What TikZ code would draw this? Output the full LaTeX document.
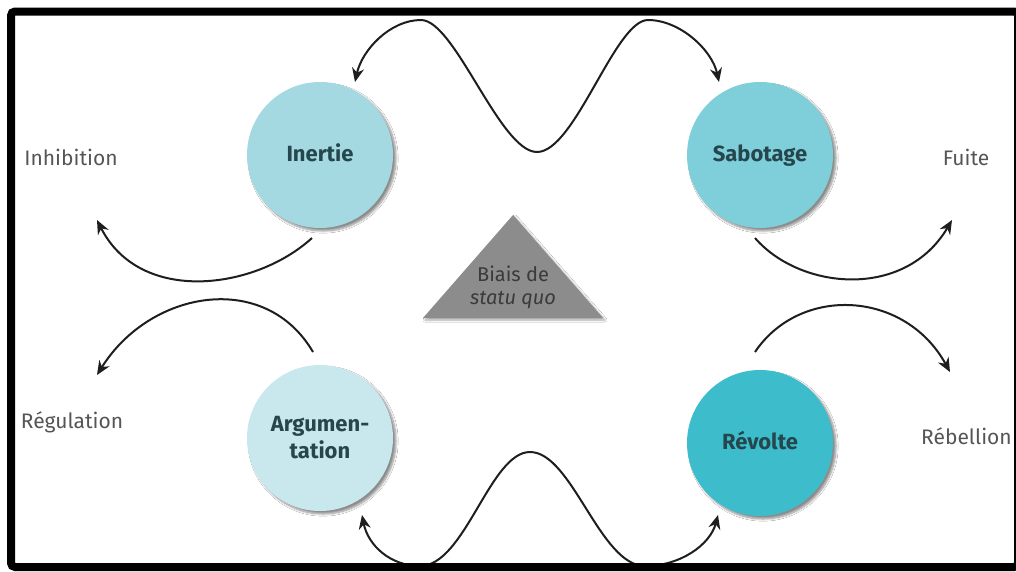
\documentclass[tikz,border=0pt]{standalone}
\usepackage{fontspec}
\setmainfont{Fira Sans}
\usetikzlibrary{arrows.meta,shadows.blur,calc}
\definecolor{cInertie}{HTML}{A4D9E2}
\definecolor{cSabotage}{HTML}{7FCFDB}
\definecolor{cArgu}{HTML}{C8E8EE}
\definecolor{cRevolte}{HTML}{3DBDCC}
\definecolor{cText}{HTML}{24464C}
\definecolor{cLabel}{HTML}{555555}
\definecolor{cTri}{HTML}{8C8C8C}
\definecolor{cTriText}{HTML}{3A3A3A}
\definecolor{cLine}{HTML}{1E1E1E}
\begin{document}
\begin{tikzpicture}[x=1pt,y=-1pt,
  bubble/.style={circle, minimum size=146pt, inner sep=0pt, align=center,
    font=\bfseries\fontsize{22}{27}\selectfont, text=cText,
    blur shadow={shadow xshift=3pt, shadow yshift=-3pt, shadow blur steps=8, shadow opacity=45}},
  oneline/.style={text height=16pt, text depth=4pt},
  lbl/.style={font=\fontsize{21}{24}\selectfont, text=cLabel, inner sep=0pt},
  tip/.tip={Stealth[length=14pt,width=12pt]},
  conn/.style={draw=cLine, line width=2pt, -tip},
  conn2/.style={draw=cLine, line width=2pt, tip-tip}
]
\useasboundingbox (0,0) rectangle (1016,571);
\clip (0,0) rectangle (1016,571);
\fill[white] (0,0) rectangle (1016,571);

% circles
\node[bubble, oneline, fill=cInertie] (inertie) at (320,155) {Inertie};
\node[bubble, oneline, fill=cSabotage] (sabotage) at (760,155) {Sabotage};
\node[bubble, fill=cArgu] (argu) at (320,438) {Argumen-\\tation};
\node[bubble, oneline, fill=cRevolte] (revolte) at (760,443) {Révolte};

% triangle
\fill[cTri, blur shadow={shadow xshift=2pt, shadow yshift=-2pt, shadow blur steps=6, shadow opacity=35}]
  (513,215) -- (603,318) -- (423,318) -- cycle;
\node[lbl, text=cTriText, align=center, font=\fontsize{20}{23}\selectfont] (biais) at (513,287) {Biais de\\\textit{statu quo}};

% outer labels
\node[lbl] (inhibition) at (71,157) {Inhibition};
\node[lbl] (fuite) at (966,157) {Fuite};
\node[lbl] (regulation) at (72,422) {Régulation};
\node[lbl, anchor=west] (rebellion) at (921,436) {Rébellion};

% connector end points
\coordinate (inertie-out) at ($(inertie.center)+(-8,83)$);
\coordinate (inhib-in) at ($(inhibition.center)+(26,63)$);
\coordinate (argu-out) at ($(argu.center)+(-7,-86)$);
\coordinate (regul-in) at ($(regulation.center)+(25,-47)$);
\coordinate (sabo-out) at ($(sabotage.center)+(-5,83)$);
\coordinate (fuite-in) at ($(fuite.center)+(-14,63)$);
\coordinate (revo-out) at ($(revolte.center)+(-5,-91)$);
\coordinate (rebel-in) at ($(rebellion.west)+(29,-64)$);
\coordinate (inertie-top) at ($(inertie.center)+(35,-73)$);
\coordinate (sabo-top) at ($(sabotage.center)+(-41,-73)$);
\coordinate (argu-bot) at ($(argu.center)+(42,77)$);
\coordinate (revo-bot) at ($(revolte.center)+(-42,72)$);

% side arrows
\draw[conn] (inertie-out) .. controls (255,290) and (140,305) .. (inhib-in);
\draw[conn] (argu-out) .. controls (265,270) and (150,290) .. (regul-in);
\draw[conn] (sabo-out) .. controls (800,290) and (905,300) .. (fuite-in);
\draw[conn] (revo-out) .. controls (800,285) and (905,290) .. (rebel-in);

% top wave
\draw[conn2] (inertie-top) .. controls (362,50) and (390,20) .. (421,20)
  .. controls (455,20) and (500,152) .. (537,152)
  .. controls (575,152) and (615,20) .. (648,20)
  .. controls (680,20) and (712,50) .. (sabo-top);

% bottom wave
\draw[conn2] (argu-bot) .. controls (368,545) and (390,566) .. (420,566)
  .. controls (465,566) and (490,452) .. (530,452)
  .. controls (572,452) and (600,566) .. (645,566)
  .. controls (680,566) and (710,545) .. (revo-bot);

% frame
\draw[black, line width=8pt, rounded corners=4pt] (11,11.5) rectangle (1018,567);
\end{tikzpicture}
\end{document}
